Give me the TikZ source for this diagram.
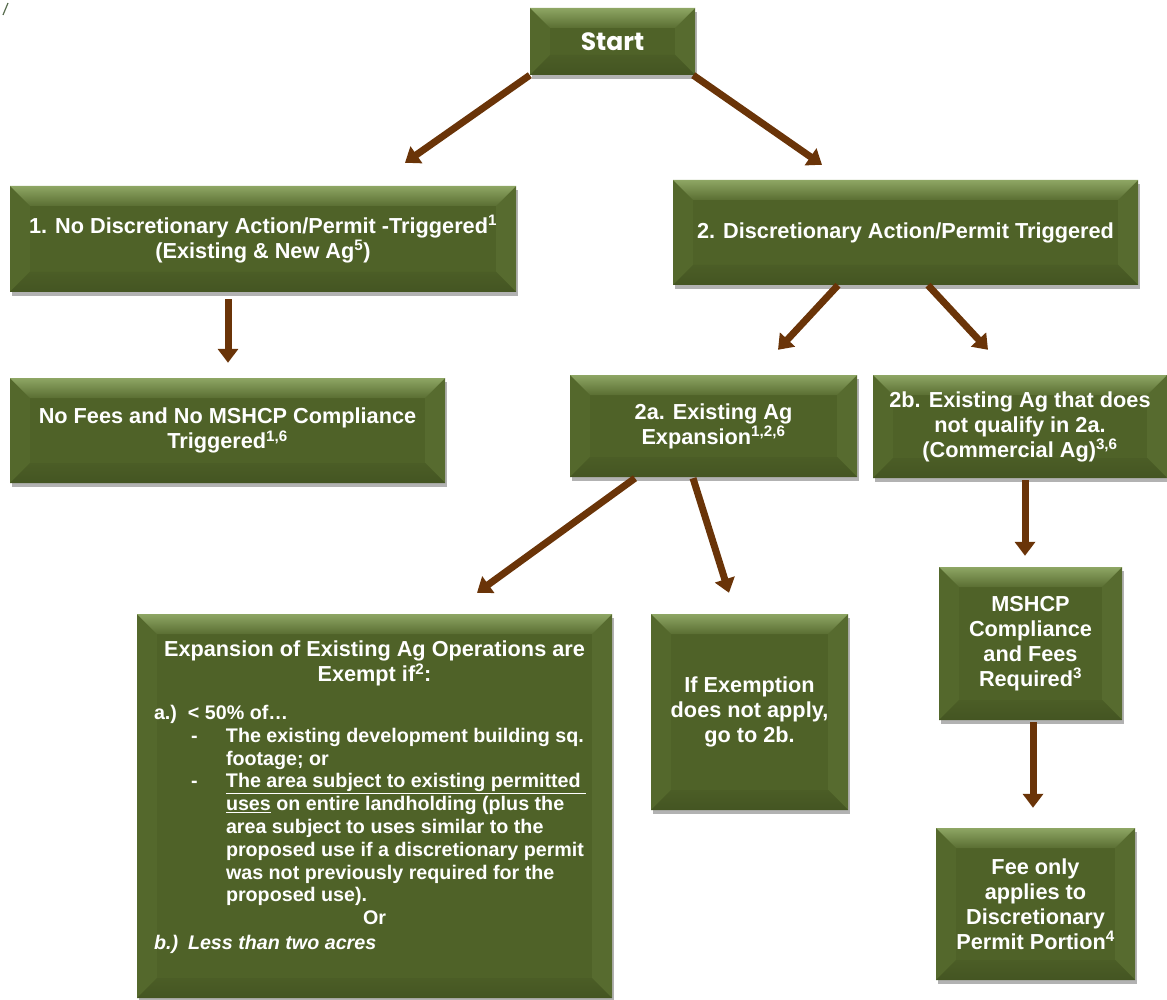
\documentclass[tikz,border=0pt]{standalone}
\usepackage{fontspec}
\setmainfont{Liberation Sans}
\newfontfamily\startfont{Poppins}
\usetikzlibrary{arrows.meta,shadows,calc}
\definecolor{boxgreen}{RGB}{79,98,40}
\definecolor{bevTa}{RGB}{142,166,100}
\definecolor{bevTb}{RGB}{90,110,50}
\definecolor{bevL}{RGB}{84,104,44}
\definecolor{bevR}{RGB}{87,107,47}
\definecolor{bevBa}{RGB}{75,93,38}
\definecolor{bevBb}{RGB}{68,85,34}
\definecolor{arrowbrown}{RGB}{106,52,8}
\definecolor{speck}{RGB}{90,110,80}
\newcommand\mainfs{\fontsize{21.7}{25}\selectfont\bfseries}
\tikzset{
  bevel/.style={path picture={
    \path (path picture bounding box.north west) coordinate (pNW)
          (path picture bounding box.north east) coordinate (pNE)
          (path picture bounding box.south west) coordinate (pSW)
          (path picture bounding box.south east) coordinate (pSE);
    \path ([shift={(20pt,-20pt)}]pNW) coordinate (iNW)
          ([shift={(-20pt,-20pt)}]pNE) coordinate (iNE)
          ([shift={(20pt,20pt)}]pSW) coordinate (iSW)
          ([shift={(-20pt,20pt)}]pSE) coordinate (iSE);
    \fill[bevL] (pNW) -- (iNW) -- (iSW) -- (pSW) -- cycle;
    \fill[bevR] (pNE) -- (iNE) -- (iSE) -- (pSE) -- cycle;
    \shade[top color=bevTa, bottom color=bevTb] (pNW) -- (pNE) -- (iNE) -- (iNW) -- cycle;
    \shade[top color=bevBa, bottom color=bevBb] (pSW) -- (iSW) -- (iSE) -- (pSE) -- cycle;
  }},
  agbox/.style={rectangle, fill=boxgreen, text=white, font=\mainfs, align=center,
    inner sep=0pt, drop shadow={shadow xshift=1.5pt, shadow yshift=-4pt, opacity=0.3, fill=black},
    bevel},
  arr/.style={draw=arrowbrown, line width=7pt, -{Triangle[width=20pt,length=14pt]}}
}
\begin{document}
\begin{tikzpicture}[x=1pt,y=-1pt]
\useasboundingbox (0,0) rectangle (1167,1000);
\draw[speck, line width=1.2pt] (3,15) -- (8,3);

\node[agbox, minimum width=165pt, minimum height=67pt] (start) at (612.5,41.5)
  {\startfont\fontsize{25}{30}\selectfont\bfseries Start};
\node[agbox, minimum width=506pt, minimum height=106pt] (b1) at (263,239)
  {1. No Discretionary Action/Permit -Triggered\textsuperscript{1}\\(Existing \& New Ag\textsuperscript{5})};
\node[agbox, minimum width=465pt, minimum height=105pt] (b2) at (905.5,232.5)
  {2. Discretionary Action/Permit Triggered};
\node[agbox, minimum width=435pt, minimum height=105pt] (nofees) at (227.5,430.5)
  {No Fees and No MSHCP Compliance\\Triggered\textsuperscript{1,6}};
\node[agbox, minimum width=287pt, minimum height=102pt] (b2a) at (713.5,426)
  {2a. Existing Ag\\Expansion\textsuperscript{1,2,6}};
\node[agbox, minimum width=294pt, minimum height=103pt] (b2b) at (1020,426.5)
  {2b. Existing Ag that does\\not qualify in 2a.\\(Commercial Ag)\textsuperscript{3,6}};
\node[agbox, minimum width=475pt, minimum height=384pt] (exp) at (374.5,806)
  {\begin{minipage}[c][360pt][t]{455pt}
   \vspace*{15pt}
   {\centering Expansion of Existing Ag Operations are\\Exempt if\textsuperscript{2}:\par}
   \vspace{15pt}
   \fontsize{19.7}{22.8}\selectfont\raggedright\leftskip=7pt
   \makebox[34pt][l]{a.)}< 50\% of…\par
   \hangindent=72pt\hangafter=1\hspace*{37pt}\makebox[35pt][l]{-}The existing development building sq.\newline footage; or\par
   \hangindent=72pt\hangafter=1\hspace*{37pt}\makebox[35pt][l]{-}\underline{The area subject to existing permitted\ }\newline \underline{uses} on entire landholding (plus the\newline area subject to uses similar to the\newline proposed use if a discretionary permit\newline was not previously required for the\newline proposed use).\par
   {\centering Or\par}
   \vspace{2pt}
   {\itshape\makebox[34pt][l]{b.)}Less than two acres\par}
   \end{minipage}};
\node[agbox, minimum width=197pt, minimum height=196pt] (ifex) at (749.5,712)
  {If Exemption\\does not apply,\\go to 2b.};
\node[agbox, minimum width=183pt, minimum height=153pt] (mshcp) at (1030.5,643.5)
  {MSHCP\\Compliance\\and Fees\\Required\textsuperscript{3}};
\node[agbox, minimum width=199pt, minimum height=152pt] (fee) at (1035.5,904)
  {Fee only\\applies to\\Discretionary\\Permit Portion\textsuperscript{4}};

\draw[arr] (start.south west) -- ($(b1.north)+(142,-23)$);
\draw[arr] ($(start.south east)+(-2,0)$) -- ($(b2.north)+(-83.5,-15)$);
\draw[arr] ($(b1.south)+(-35,7)$) -- ($(nofees.north)+(0.5,-15)$);
\draw[arr] ($(b2.south)+(-67.5,0)$) -- ($(b2a.north)+(64.5,-25)$);
\draw[arr] ($(b2.south)+(22.5,0)$) -- ($(b2b.north)+(-32,-25)$);
\draw[arr] ($(b2a.south)+(-78.5,1)$) -- ($(exp.north)+(102.5,-21)$);
\draw[arr] ($(b2a.south)+(-20.5,1)$) -- ($(ifex.north)+(-20.5,-21)$);
\draw[arr] ($(b2b.south)+(5,2)$) -- ($(mshcp.north)+(-5.5,-11)$);
\draw[arr] ($(mshcp.south)+(2.5,2)$) -- ($(fee.north)+(-2.5,-20)$);
\end{tikzpicture}
\end{document}
